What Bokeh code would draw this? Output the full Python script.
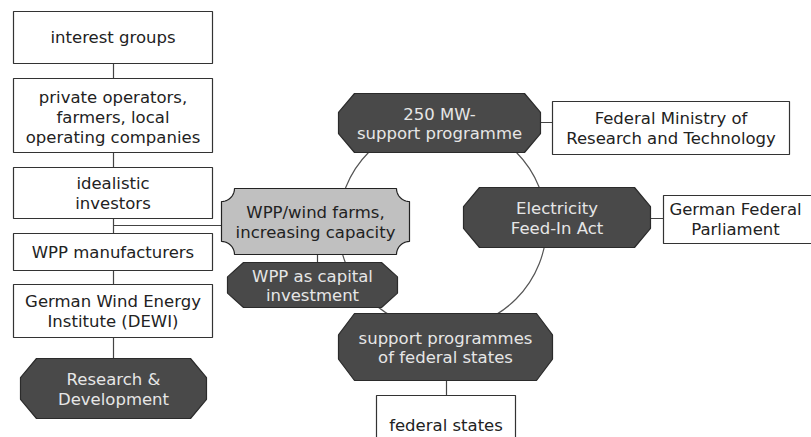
import numpy as np
from bokeh.plotting import figure
from bokeh.models import Range1d
from bokeh.embed import file_html
from bokeh.resources import INLINE
from bokeh.core.properties import value

# ---- diagram content (image-pixel coordinates: x0, x1, y0, y1) ----
box_labels = ["interest groups",
              "private operators,\nfarmers, local\noperating companies",
              "idealistic\ninvestors",
              "WPP manufacturers",
              "German Wind Energy\nInstitute (DEWI)",
              "Federal Ministry of\nResearch and Technology",
              "German Federal\nParliament",
              "federal states"]
box_x0 = [13, 13, 13, 13, 13, 552, 663, 376]
box_x1 = [212, 212, 212, 212, 212, 789, 830, 515]
box_y0 = [11, 78, 167, 233, 284, 101, 195, 395]
box_y1 = [63, 152, 218, 270, 337, 154, 243, 460]
box_tx = [112.5, 112.5, 112.5, 112.5, 112.5, 670.5, 735, 445.5]
box_ty = [37, 117, 193, 252, 311, 128, 219, 425]

oct_labels = ["Research &\nDevelopment",
              "WPP as capital\ninvestment",
              "250 MW-\nsupport programme",
              "Electricity\nFeed-In Act",
              "support programmes\nof federal states"]
oct_x0 = [20, 227, 338, 463, 338]
oct_x1 = [206, 397, 540, 650, 552]
oct_y0 = [358, 262, 93, 187, 313]
oct_y1 = [418, 307, 152, 247, 380]

hub_label = "WPP/wind farms,\nincreasing capacity"
hub_box = (221, 409, 188, 254)

ring_center = (442, 225)
ring_radius = 104

links = [((113, 63), (113, 358)),
         ((113, 225), (221, 225)),
         ((317, 254), (317, 262)),
         ((540, 122), (552, 122)),
         ((650, 218), (663, 218)),
         ((446, 380), (446, 395))]

FONT = value("DejaVu Sans")
FS = "16.5px"
LH = 1.03

W, H = 811, 437
p = figure(width=W, height=H, output_backend="svg", toolbar_location=None,
           x_range=Range1d(0, W), y_range=Range1d(H, 0),
           min_border=0)
p.axis.visible = False
p.grid.visible = False
p.outline_line_color = None
p.background_fill_color = "white"

# connectors
p.multi_line(xs=[[a[0], b[0]] for a, b in links], ys=[[a[1], b[1]] for a, b in links],
             line_color="#444444", line_width=1.2)
# ring
p.circle(x=[ring_center[0]], y=[ring_center[1]], radius=ring_radius,
         fill_color=None, line_color="#555555", line_width=1.2)

# white boxes
p.quad(left=box_x0, right=box_x1, top=box_y0, bottom=box_y1,
       fill_color="white", line_color="#333333", line_width=1.2)
p.text(x=box_tx, y=box_ty, text=box_labels, text_align="center", text_baseline="middle",
       text_font=FONT, text_font_size=FS, text_color="#222222", text_line_height=LH)

# octagons
oxs, oys = [], []
for x0, x1, y0, y1 in zip(oct_x0, oct_x1, oct_y0, oct_y1):
    dx = 16
    dy = (y1 - y0) * 0.32
    oxs.append([x0 + dx, x1 - dx, x1, x1, x1 - dx, x0 + dx, x0, x0])
    oys.append([y0, y0, y0 + dy, y1 - dy, y1, y1, y1 - dy, y0 + dy])
p.patches(xs=oxs, ys=oys, fill_color="#494949", line_color="#2b2b2b", line_width=1.2)
p.text(x=[(a + b) / 2 for a, b in zip(oct_x0, oct_x1)],
       y=[(a + b) / 2 + 1 for a, b in zip(oct_y0, oct_y1)],
       text=oct_labels, text_align="center", text_baseline="middle",
       text_font=FONT, text_font_size=FS, text_color="#e6e6e6", text_line_height=LH)

# hub with concave corners
hx0, hx1, hy0, hy1 = hub_box
r = 13
t = np.linspace(0, np.pi / 2, 12)
px, py = [], []
px += list(hx0 + r * np.sin(t)); py += list(hy0 + r * np.cos(t))
px += list(hx1 - r * np.cos(t)); py += list(hy0 + r * np.sin(t))
px += list(hx1 - r * np.sin(t)); py += list(hy1 - r * np.cos(t))
px += list(hx0 + r * np.cos(t)); py += list(hy1 - r * np.sin(t))
p.patch(x=px, y=py, fill_color="#c0c0c0", line_color="#222222", line_width=1.2)
p.text(x=[(hx0 + hx1) / 2], y=[(hy0 + hy1) / 2 + 1], text=[hub_label],
       text_align="center", text_baseline="middle", text_font=FONT,
       text_font_size=FS, text_color="#222222", text_line_height=LH)

open("out.html", "w").write(file_html(p, INLINE))
